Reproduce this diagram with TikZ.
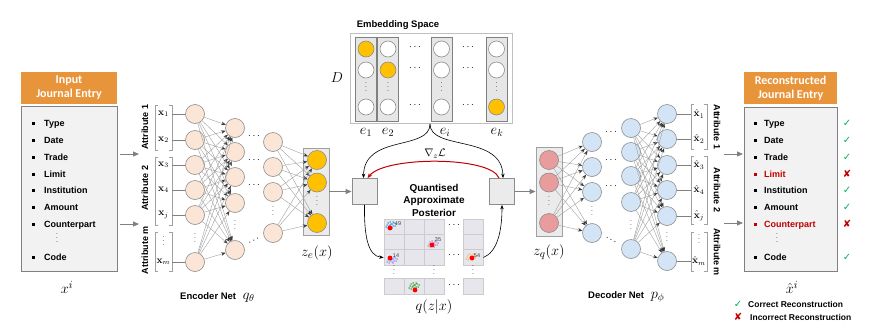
\documentclass[tikz,border=0pt]{standalone}
\usepackage[no-math]{fontspec}
\newfontfamily\arial{Liberation Sans}
\newfontfamily\hdrfont{Carlito}
\newfontfamily\dejavu{DejaVu Sans}
\usetikzlibrary{arrows.meta}
\definecolor{hdrorange}{HTML}{E8943A}
\definecolor{boxgray}{HTML}{F2F2F2}
\definecolor{edgegray}{HTML}{808080}
\definecolor{nodegray}{HTML}{8C8C8C}
\definecolor{peach}{HTML}{FBE5D6}
\definecolor{lblue}{HTML}{D2E4F5}
\definecolor{gold}{HTML}{FFC000}
\definecolor{pinkz}{HTML}{E89C9C}
\definecolor{latgray}{HTML}{EBEBEB}
\definecolor{colgray}{HTML}{E6E6E6}
\definecolor{cellfill}{HTML}{E6E6EC}
\definecolor{itemred}{HTML}{C00000}
\definecolor{okgreen}{HTML}{00B050}
\definecolor{linegray}{HTML}{A0A0A0}
\newcommand\brkpair[4]{%
  \draw[brk] (#1+3,#3) -| (#1,#4) -- (#1+3,#4);
  \draw[brk] (#2-3,#3) -| (#2,#4) -- (#2-3,#4);}
\newcommand\cluster[3]{%
  \foreach \dx/\dy in {-3/-2,-1/-3,1/-1,2/1,-2/1,0/2,3/-2,-4/0,1/3,-1/0,4/1,2/-3,-3/3,0/-1,5/-1,-5/2}
    {\fill[#3] (#1+\dx,#2+\dy) circle (0.75pt);}}
\begin{document}
\begin{tikzpicture}[x=1pt,y=-1pt,
  every node/.style={inner sep=0pt},
  hdrbox/.style={fill=hdrorange, text=white, align=center, font=\hdrfont\bfseries\fontsize{12}{14}\selectfont},
  listbox/.style={fill=boxgray, draw=edgegray, line width=0.8pt},
  item/.style={anchor=west, font=\arial\bfseries\fontsize{9}{10}\selectfont, text height=6.5pt, text depth=0pt},
  attr/.style={font=\arial\bfseries\fontsize{9}{10}\selectfont},
  title/.style={font=\arial\bfseries\fontsize{10}{12.5}\selectfont, align=center},
  encn/.style={circle, draw=nodegray, fill=peach, minimum size=19pt, line width=0.6pt},
  decn/.style={circle, draw=nodegray, fill=lblue, minimum size=19pt, line width=0.6pt},
  yel/.style={circle, draw=nodegray, fill=gold, minimum size=19pt, line width=0.6pt},
  pnk/.style={circle, draw=nodegray, fill=pinkz, minimum size=19pt, line width=0.6pt},
  embc/.style={circle, draw=nodegray, minimum size=16pt, line width=0.6pt},
  latbox/.style={fill=latgray, draw=linegray, line width=0.8pt},
  qbox/.style={fill=latgray, draw=nodegray, line width=0.8pt, minimum width=25pt, minimum height=26pt},
  colbox/.style={fill=colgray, draw=edgegray, line width=0.6pt, minimum width=21pt, minimum height=84pt},
  cell/.style={fill=cellfill, draw=gray!40, line width=0.8pt, minimum width=20pt, minimum height=15.5pt},
  vd/.style={font=\fontsize{8}{8}\selectfont, text height=5pt, text depth=0pt},
  xlab/.style={font=\fontsize{10}{10}\selectfont},
  mlab/.style={font=\fontsize{15}{15}\selectfont},
  brk/.style={draw=linegray, line width=0.6pt},
  thinl/.style={draw=gray, line width=0.6pt},
  netedge/.style={draw=linegray, line width=0.4pt, -{Stealth[length=4.5pt,width=3.5pt,color=gray!45!black]}},
  grayarrow/.style={draw=edgegray, line width=0.9pt, -{Triangle[length=6pt,width=5pt]}},
  blk/.style={draw=black, line width=0.6pt, -{Stealth[length=4.5pt,width=3.5pt]}},
  redarr/.style={draw=itemred, line width=1pt, -{Stealth[length=5pt,width=4pt]}},
  chk/.style={font=\dejavu\fontsize{10}{10}\selectfont},
  num/.style={font=\arial\fontsize{5.5}{5.5}\selectfont, text=black!75},
]
\useasboundingbox (0,0) rectangle (874,327);

% ---------------- input journal entry
\node[hdrbox, minimum width=96pt, minimum height=32pt] (inhdr) at (69,88) {Input\\Journal Entry};
\node[listbox, minimum width=96pt, minimum height=165pt] (inbody) at (69,188.5) {};
\foreach \t/\y in {Type/123,Date/140,Trade/157,Limit/174,Institution/190,Amount/207,Counterpart/224,Code/257}{
  \fill (31.5,\y-1.5) rectangle (34.5,\y+1.5);
  \node[item] (in\t) at (44,\y) {\t};
}
\node[vd] (invd) at (57,240) {$\vdots$};
\node[mlab] (xi) at (67,287) {$x^i$};
\coordinate (inA) at (139,154);
\coordinate (inB) at (139,224);
\draw[grayarrow, shorten <=3pt] (inbody.east |- inA) -- (inA);
\draw[grayarrow, shorten <=3pt] (inbody.east |- inB) -- (inB);

% ---------------- encoder input attributes
\node[attr, rotate=90] (attl1) at (145,127) {Attribute 1};
\node[attr, rotate=90] (attl2) at (145,188) {Attribute 2};
\node[attr, rotate=90] (attl3) at (145,250) {Attribute m};
\brkpair{155}{172}{105}{150}
\brkpair{155}{172}{157}{225}
\brkpair{155}{172}{232}{271}
\foreach \i/\y/\t in {1/114/{\mathbf{x}_1},2/140/{\mathbf{x}_2},3/165/{\mathbf{x}_3},4/190/{\mathbf{x}_4},5/215/{\mathbf{x}_j},6/262/{\mathbf{x}_m}}
  \node[xlab, minimum width=17pt] (x\i) at (163.5,\y) {$\t$};
\node[vd] (xvd) at (163.5,243) {$\vdots$};

% ---------------- encoder network
\foreach \i/\y in {1/114,2/140,3/165,4/190,5/215,6/262} \node[encn] (a\i) at (195,\y) {};
\node[vd] (avd) at (195,240) {$\vdots$};
\foreach \i/\y in {1/128,2/152,3/177,4/203,5/250} \node[encn] (b\i) at (235,\y) {};
\node[vd] (bvd) at (235,227) {$\vdots$};
\foreach \i/\y in {1/142,2/167,3/192,4/233} \node[encn] (c\i) at (273,\y) {};
\node[vd] (cvd) at (273,213) {$\vdots$};
\node[latbox, minimum width=26pt, minimum height=87pt] (zebox) at (316,191.5) {};
\foreach \i/\y in {1/160,2/182.5,3/223} \node[yel] (ze\i) at (317,\y) {};
\node[vd] (zevd) at (317,203) {$\vdots$};
\foreach \i in {1,...,6} \draw[thinl] (x\i) -- (a\i);
\foreach \i in {1,...,6} \foreach \j in {1,...,5} \draw[netedge] (a\i) -- (b\j);
\foreach \i in {1,...,4} \foreach \j in {1,2,3} \draw[netedge] (c\i) -- (ze\j);
\foreach \y [count=\k] in {136,160,185} \node (ed\k) at (254,\y) {$\cdots$};
\node[rotate=28] (edd) at (254,241) {$\cdots$};
\node[mlab] (zelab) at (317,253) {$z_e(x)$};
\node[anchor=west] (enclab) at (180,297) {{\arial\bfseries\fontsize{9.5}{10}\selectfont Encoder Net}\ \ {\fontsize{14}{14}\selectfont$q_\theta$}};

% ---------------- embedding space
\node[font=\arial\bfseries\fontsize{9.5}{10}\selectfont] (embtitle) at (398,25) {Embedding Space};
\node[draw=gray!50, line width=0.9pt, fill=white, minimum width=162pt, minimum height=90pt] (emb) at (431,78) {};
\foreach \n/\x/\ca/\cb/\cc in {1/366/gold/white/white, 2/388/white/gold/white, i/441.5/white/white/white, k/496.5/white/white/gold}{
  \node[colbox] (col\n) at (\x,79) {};
  \node[embc, fill=\ca] (ec\n a) at (\x,49) {};
  \node[embc, fill=\cb] (ec\n b) at (\x,70) {};
  \node[embc, fill=\cc] (ec\n c) at (\x,107) {};
  \node[vd] (ec\n vd) at (\x,89) {$\vdots$};
}
\foreach \x/\nm in {415/p,468/q}{
  \node (dd\nm a) at (\x,47) {$\cdots$};
  \node (dd\nm b) at (\x,68) {$\cdots$};
  \node (dd\nm c) at (\x,105) {$\cdots$};
}
\node[font=\fontsize{14}{14}\selectfont] (Dlab) at (337,78) {$D$};
\node[font=\fontsize{14}{14}\selectfont] (e1lab) at (366,132) {$e_1$};
\node[font=\fontsize{14}{14}\selectfont] (e2lab) at (388,132) {$e_2$};
\node[font=\fontsize{14}{14}\selectfont] (eilab) at (445,132) {$e_i$};
\node[font=\fontsize{14}{14}\selectfont] (eklab) at (497,132) {$e_k$};
\coordinate (brtip) at (430,124);

% ---------------- quantisation
\node[qbox] (ql) at (364.5,191.5) {};
\node[qbox] (qr) at (502,191.5) {};
\draw[grayarrow] (zebox) -- (ql);
\draw[blk] (brtip) .. controls (430,151) and (364,134) .. ([xshift=-1pt]ql.north);
\draw[blk] (brtip) .. controls (430,151) and (502,134) .. ([xshift=1pt]qr.north);
\draw[redarr] ([xshift=-3pt]qr.north) .. controls (491,156) and (385,156) .. ([xshift=3pt]ql.north);
\node[font=\fontsize{11}{11}\selectfont] (gradlab) at (435,154) {$\nabla_z\mathcal{L}$};
\node[title] (qap) at (434,200) {Quantised\\Approximate\\Posterior};

\foreach \r/\y in {1/227,2/242.5,3/257.5,4/286.5}
  \foreach \c/\x in {1/394,2/414,3/434,4/473}
    \node[cell] (g\r\c) at (\x,\y) {};
\foreach \y [count=\k] in {225,255,285} \node (gd\k) at (454,\y) {$\cdots$};
\foreach \x [count=\k] in {394,434,473} \node[vd] (gv\k) at (\x,272) {$\vdots$};
\cluster{391}{225}{cyan!60!blue}
\cluster{433}{244}{violet!60}
\cluster{392}{260}{blue!55}
\cluster{471}{257}{orange!70}
\cluster{414}{286}{green!55!black}
\foreach \x/\y [count=\k] in {390/228,432/245,390/258,472/258,415/290}
  \fill[red] (\x,\y) circle (2.4pt);
\node[num] (n49) at (398,224) {49};
\node[num] (n35) at (438,240) {35};
\node[num] (n14) at (396,256) {14};
\node[num] (n54) at (477,256) {54};
\draw[blk] (ql.south) .. controls (364,236) and (368,256) .. (g31.west);
\draw[blk] (g34.east) .. controls (497,252) and (502,232) .. (qr.south);
\node[mlab] (qzx) at (434,307) {$q(z|x)$};

% ---------------- decoder network
\node[latbox, minimum width=26pt, minimum height=89pt] (zqbox) at (549,191.5) {};
\foreach \i/\y in {1/160,2/182.5,3/223} \node[pnk] (zq\i) at (549,\y) {};
\node[vd] (zqvd) at (549,203) {$\vdots$};
\draw[grayarrow] (qr) -- (zqbox);
\foreach \i/\y in {1/142,2/167,3/192,4/233} \node[decn] (d\i) at (592,\y) {};
\node[vd] (dvd) at (592,213) {$\vdots$};
\foreach \i/\y in {1/128,2/152,3/176,4/202,5/249} \node[decn] (f\i) at (631,\y) {};
\node[vd] (fvd) at (631,227) {$\vdots$};
\foreach \i/\y in {1/114,2/139,3/165,4/190,5/216,6/261} \node[decn] (o\i) at (667,\y) {};
\node[vd] (ovd) at (667,239) {$\vdots$};
\foreach \i in {1,2,3} \foreach \j in {1,...,4} \draw[netedge] (zq\i) -- (d\j);
\foreach \i in {1,...,5} \foreach \j in {1,...,6} \draw[netedge] (f\i) -- (o\j);
\foreach \y [count=\k] in {132,160,186} \node (fd\k) at (611,\y) {$\cdots$};
\node[rotate=-28] (fdd) at (611,240) {$\cdots$};
\node[mlab] (zqlab) at (549,252) {$z_q(x)$};
\node[anchor=west] (declab) at (588,297) {{\arial\bfseries\fontsize{9.5}{10}\selectfont Decoder Net}\ \ {\fontsize{14}{14}\selectfont$p_\phi$}};

% ---------------- decoder output attributes
\brkpair{691}{707}{104}{149}
\brkpair{691}{707}{156}{224}
\brkpair{691}{707}{232}{271}
\foreach \i/\y/\t in {1/114/{\hat{\mathbf{x}}_1},2/139/{\hat{\mathbf{x}}_2},3/165/{\hat{\mathbf{x}}_3},4/190/{\hat{\mathbf{x}}_4},5/216/{\hat{\mathbf{x}}_j},6/261/{\hat{\mathbf{x}}_m}}
  \node[xlab, minimum width=16pt] (xh\i) at (699,\y) {$\t$};
\node[vd] (xhvd) at (699,241) {$\vdots$};
\foreach \i in {1,...,6} \draw[thinl] (o\i) -- (xh\i);
\node[attr, rotate=-90] (attr1) at (717,127) {Attribute 1};
\node[attr, rotate=-90] (attr2) at (717,190) {Attribute 2};
\node[attr, rotate=-90] (attr3) at (717,252) {Attribute m};

% ---------------- reconstructed journal entry
\node[hdrbox, minimum width=93pt, minimum height=32pt] (outhdr) at (790.5,88) {Reconstructed\\Journal Entry};
\node[listbox, minimum width=93pt, minimum height=164pt] (outbody) at (790.5,189) {};
\coordinate (outA) at (743,154);
\coordinate (outB) at (743,223);
\draw[grayarrow] (724,154) coordinate (outAs) -- (outA);
\draw[grayarrow] (724,223) coordinate (outBs) -- (outB);
\foreach \t/\y/\c in {Type/123/black,Date/140/black,Trade/157/black,Limit/174/itemred,Institution/190/black,Amount/207/black,Counterpart/224/itemred,Code/257/black}{
  \fill[\c] (753.5,\y-1.5) rectangle (756.5,\y+1.5);
  \node[item, text=\c] (out\t) at (764,\y) {\t};
}
\node[vd] (outvd) at (777,240) {$\vdots$};
\foreach \y/\s/\c in {123/✓/okgreen,140/✓/okgreen,157/✓/okgreen,174/✘/itemred,190/✓/okgreen,207/✓/okgreen,224/✘/itemred,257/✓/okgreen}
  \node[chk, text=\c] (ck\y) at (847,\y) {\s};
\node[mlab] (xhi) at (792,287) {$\hat{x}^i$};
\node[chk, text=okgreen] (lg1) at (738,304) {✓};
\node[item, font=\arial\bfseries\fontsize{8.5}{10}\selectfont] (lgt1) at (748,304) {Correct Reconstruction};
\node[chk, text=itemred] (lg2) at (738,317) {✘};
\node[item, font=\arial\bfseries\fontsize{8.5}{10}\selectfont] (lgt2) at (750,317) {Incorrect Reconstruction};
\end{tikzpicture}
\end{document}
